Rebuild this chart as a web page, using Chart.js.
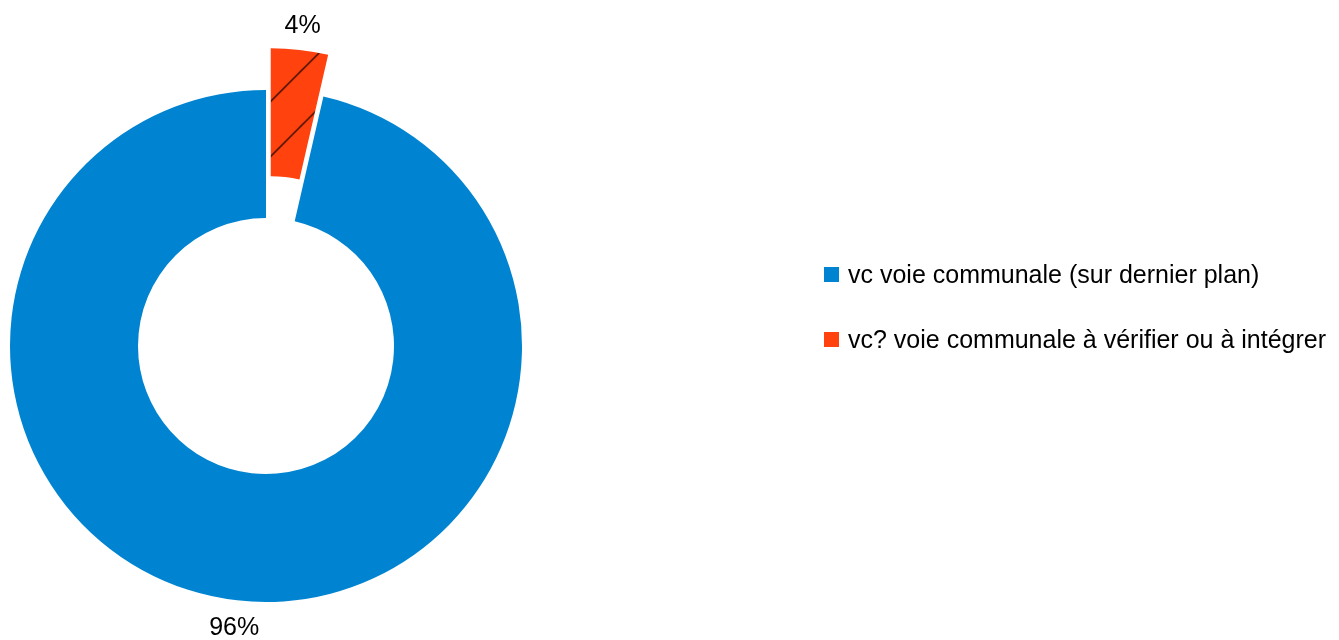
<!DOCTYPE html>
<html>
<head>
<meta charset="utf-8">
<script src="https://cdn.jsdelivr.net/npm/chart.js@4.4.0/dist/chart.umd.min.js"></script>
<style>
    body { margin: 0; background: #fff; }
    #wrap { position: relative; width: 1339px; height: 640px; }
    #legend { position: absolute; left: 824px; top: 0; font-family: "Liberation Sans", Arial, sans-serif; font-size: 25px; color: #000; }
    .item { position: absolute; white-space: nowrap; height: 30px; line-height: 30px; }
    .box { position: absolute; left: 0; top: 8px; width: 15px; height: 15px; }
    .txt { position: absolute; left: 24px; top: 0; }
</style>
</head>
<body>
<div id="wrap">
    <canvas id="pie" width="1339" height="640"></canvas>
    <div id="legend"></div>
</div>
<script>
// chart data
const labels = ["vc voie communale (sur dernier plan)", "vc? voie communale à vérifier ou à intégrer"]
const values = [96.4, 3.6]
const colors = ["#0084D1", "#FF420E"]
const hatched = [false, true]
const explode = [0, 42]

// hatch pattern for the exploded slice (tile shifted to make up for the slice translation)
function hatch(color) {
    const c = document.createElement('canvas')
    c.width = 55
    c.height = 55
    const g = c.getContext('2d')
    g.fillStyle = color
    g.fillRect(0, 0, 55, 55)
    g.strokeStyle = '#000'
    g.lineWidth = 1.2
    for (const k of [0, 55, 110]) {
        g.beginPath()
        g.moveTo(-5, k + 5)
        g.lineTo(k + 5, -5)
        g.stroke()
    }
    const p = document.getElementById('pie').getContext('2d').createPattern(c, 'repeat')
    p.setTransform(new DOMMatrix().translate(24, 0))
    return p
}

const fills = colors.map((c, i) => hatched[i] ? hatch(c) : c)
const total = values.reduce((a, b) => a + b, 0)

// pull slices out of the ring without changing their radius
const explodeSlices = {
    id: 'explodeSlices',
    beforeDatasetDraw(chart, args) {
        const ctx = chart.ctx
        args.meta.data.forEach((arc, i) => {
            const mid = (arc.startAngle + arc.endAngle) / 2
            ctx.save()
            ctx.translate(Math.cos(mid) * explode[i], Math.sin(mid) * explode[i])
            arc.draw(ctx)
            ctx.restore()
        })
        return false
    }
}

// percent labels outside each slice, glyphs centred on the point
const pctLabels = {
    id: 'pctLabels',
    afterDatasetsDraw(chart) {
        const ctx = chart.ctx
        const arcs = chart.getDatasetMeta(0).data
        ctx.save()
        ctx.font = '25px "Liberation Sans", Arial, sans-serif'
        ctx.fillStyle = '#000'
        ctx.textAlign = 'center'
        ctx.textBaseline = 'alphabetic'
        arcs.forEach((arc, i) => {
            const mid = (arc.startAngle + arc.endAngle) / 2
            const r = arc.outerRadius + 26 + explode[i]
            const pct = Math.round(values[i] / total * 100) + '%'
            ctx.fillText(pct, arc.x + Math.cos(mid) * r, arc.y + Math.sin(mid) * r + 9)
        })
        ctx.restore()
    }
}

new Chart(document.getElementById('pie'), {
    type: 'doughnut',
    data: {
        labels: labels,
        datasets: [{
            data: values,
            backgroundColor: fills,
            borderWidth: 0
        }]
    },
    options: {
        responsive: false,
        animation: false,
        events: [],
        devicePixelRatio: 1,
        radius: 256,
        cutout: '50%',
        rotation: values[1] / total * 360,
        layout: { padding: { left: 0, right: 807, top: 52, bottom: 0 } },
        plugins: {
            legend: { display: false },
            tooltip: { enabled: false }
        }
    },
    plugins: [explodeSlices, pctLabels]
})

// legend on the right
const legendTops = [259, 324]
labels.forEach((l, i) => {
    const el = document.createElement('div')
    el.className = 'item'
    el.style.top = legendTops[i] + 'px'
    el.innerHTML = `<div class="box" style="background:${colors[i]}"></div><span class="txt">${l}</span>`
    document.getElementById('legend').appendChild(el)
})
</script>
</body>
</html>
